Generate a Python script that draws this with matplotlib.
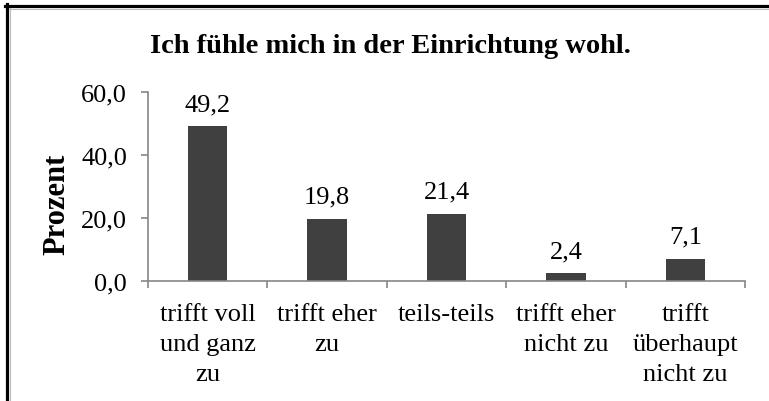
import matplotlib
matplotlib.use("Agg")
import matplotlib.pyplot as plt
from matplotlib.lines import Line2D
import numpy as np

categories = ["trifft voll\nund ganz\nzu", "trifft eher\nzu", "teils-teils",
              "trifft eher\nnicht zu", "trifft\nüberhaupt\nnicht zu"]
values = [49.2, 19.8, 21.4, 2.4, 7.1]
yticks = [0, 20, 40, 60]
title = "Ich fühle mich in der Einrichtung wohl."
ylabel = "Prozent"

def de(v):
    return f"{v:.1f}".replace(".", ",")

plt.rcParams['font.family'] = ['Liberation Serif', 'DejaVu Serif']

W, H = 769, 402
fig = plt.figure(figsize=(W/100, H/100), dpi=100)
ax = fig.add_axes([148/W, 1-282/H, (745-148)/W, (282-93)/H])

x = np.arange(len(categories))
ax.bar(x, values, width=0.33, color="#404040", zorder=2)
for xi, v in zip(x, values):
    ax.text(xi, v + 5.0, de(v), ha="center", va="baseline", fontsize=19)

ax.set_xlim(-0.5, len(categories) - 0.5)
ax.set_ylim(0, 60)
ax.set_yticks(yticks)
ax.set_yticklabels([de(t) for t in yticks], fontsize=19)
ax.set_xticks(x)
ax.set_xticklabels(categories, fontsize=19, linespacing=1.45, va="top")
ax.set_xticks(np.arange(-0.5, len(categories), 1.0), minor=True)
ax.tick_params(axis="x", which="major", length=0, pad=16)
ax.tick_params(axis="x", which="minor", length=5, color="#868686", width=1.2)
ax.tick_params(axis="y", length=5, color="#868686", width=1.2, pad=10)

for s in ["top", "right"]:
    ax.spines[s].set_visible(False)
for s in ["left", "bottom"]:
    ax.spines[s].set_color("#868686")
    ax.spines[s].set_linewidth(1.2)

ax.set_ylabel(ylabel, fontsize=22, fontweight="bold")
ax.yaxis.set_label_coords(71/W, 1-204/H, transform=fig.transFigure)
fig.text(390/W, 1-53/H, title, ha="center", va="baseline",
         fontsize=20.5, fontweight="bold")

# frame (left and top only, as in reference)
fig.add_artist(Line2D([6.5/W, 6.5/W], [0, 1-5/H], transform=fig.transFigure,
                      color="black", linewidth=2.3, solid_capstyle="projecting"))
fig.add_artist(Line2D([5/W, 1], [1-6.5/H, 1-6.5/H], transform=fig.transFigure,
                      color="black", linewidth=2.3))
fig.add_artist(Line2D([9.5/W, 9.5/W], [0, 1-9/H], transform=fig.transFigure,
                      color="#bbbbbb", linewidth=0.8))
fig.add_artist(Line2D([9/W, 1], [1-9.5/H, 1-9.5/H], transform=fig.transFigure,
                      color="#bbbbbb", linewidth=0.8))

fig.savefig("out.png", dpi=100)
